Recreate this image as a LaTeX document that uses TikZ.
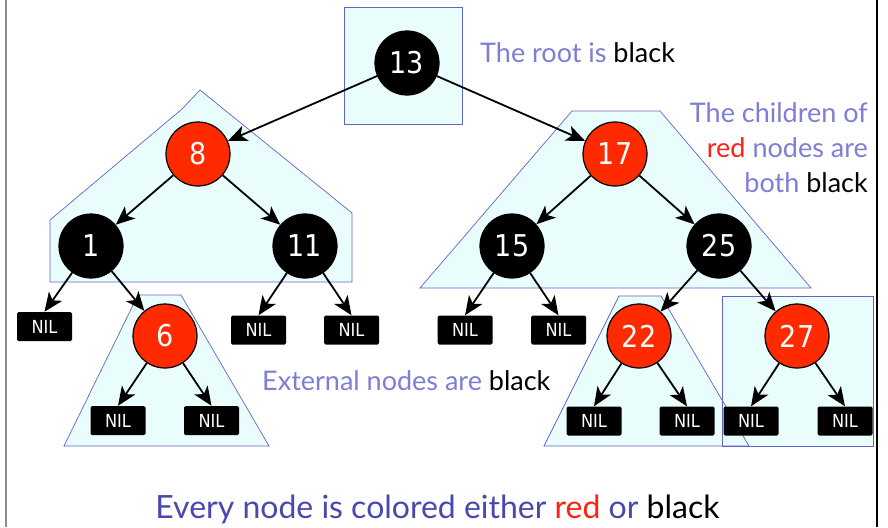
\documentclass[tikz,border=0pt]{standalone}
\usepackage{fontspec}
\setmainfont{Lato}
\newfontfamily\keyfont{DejaVu Sans Condensed}
\usetikzlibrary{arrows.meta}
\definecolor{lavender}{RGB}{126,126,214}
\definecolor{deepblue}{RGB}{72,72,176}
\definecolor{nodered}{RGB}{255,42,0}
\definecolor{txtred}{RGB}{255,34,20}
\definecolor{regionfill}{RGB}{234,253,253}
\definecolor{regionline}{RGB}{100,100,200}
\tikzset{
  keynode/.style={circle, draw=black, line width=1.2pt, minimum size=64pt,
    inner sep=0pt, text=white, font=\keyfont\fontsize{30}{30}\selectfont},
  blacknode/.style={keynode, fill=black},
  rednode/.style={keynode, fill=nodered},
  nilnode/.style={rectangle, fill=black, rounded corners=1.5pt,
    minimum width=55pt, minimum height=29pt, inner sep=0pt, text=white,
    font=\keyfont\fontsize{18}{18}\selectfont},
  link/.style={-{Stealth[length=19pt,width=16pt,inset=5pt]}, line width=1.8pt},
  regionfillstyle/.style={fill=regionfill},
  regionedge/.style={draw=regionline, line width=0.7pt},
  note/.style={text=lavender, font=\fontsize{27}{27}\selectfont, inner sep=0pt},
}
\begin{document}
\begin{tikzpicture}[x=1pt, y=-1pt]
\useasboundingbox (0,0) rectangle (888,527);
\fill[white] (0,0) rectangle (888,527);

% side rules of the slide frame
\draw[line width=1.5pt, gray!90] (6,0) -- (6,527);
\draw[line width=1.2pt, black] (877,0) -- (877,527);

% highlighted regions: fills first, outlines on top
\def\rootbox{(344,7) rectangle (462,124)}
\def\leftpent{(200,90) -- (182,109) -- (50,220) -- (50,282) -- (352,282) -- (352,213) -- cycle}
\def\righttrap{(572,111) -- (660,111) -- (811,288) -- (420,288) -- cycle}
\def\sixtrap{(138,295) -- (181,295) -- (269,446) -- (64,446) -- cycle}
\def\twotwotrap{(619,296) -- (661,296) -- (749,446) -- (544,446) -- cycle}
\def\twosevenbox{(722,296) rectangle (873,446)}
\foreach \r in {\rootbox,\leftpent,\righttrap,\sixtrap,\twotwotrap,\twosevenbox}
  \path[regionfillstyle] \r;
\foreach \r in {\rootbox,\leftpent,\righttrap,\sixtrap,\twotwotrap,\twosevenbox}
  \path[regionedge] \r;

% tree keys
\node[blacknode] (n13) at (407,63) {13};
\node[rednode]   (n8)  at (198,154) {8};
\node[rednode]   (n17) at (615,154) {17};
\node[blacknode] (n1)  at (91,246) {1};
\node[blacknode] (n11) at (305,246) {11};
\node[blacknode] (n15) at (512,246) {15};
\node[blacknode] (n25) at (719,246) {25};
\node[rednode]   (n6)  at (165,336) {6};
\node[rednode]   (n22) at (639,336) {22};
\node[rednode]   (n27) at (797,336) {27};

% external (NIL) leaves
\node[nilnode] (l1)  at (44.5,326.5) {NIL};
\node[nilnode] (l11a) at (258.5,330) {NIL};
\node[nilnode] (l11b) at (351.5,330) {NIL};
\node[nilnode] (l15a) at (465,330) {NIL};
\node[nilnode] (l15b) at (558.5,330) {NIL};
\node[nilnode] (l6a) at (118,420.5) {NIL};
\node[nilnode] (l6b) at (211.5,420.5) {NIL};
\node[nilnode] (l22a) at (594,421) {NIL};
\node[nilnode] (l22b) at (687,421) {NIL};
\node[nilnode] (l27a) at (751,421) {NIL};
\node[nilnode] (l27b) at (845,421) {NIL};

% parent-to-child links
\draw[link] (n13) -- (n8);
\draw[link] (n13) -- (n17);
\draw[link] (n8) -- (n1);
\draw[link] (n8) -- (n11);
\draw[link] (n17) -- (n15);
\draw[link] (n17) -- (n25);
\draw[link] (n1) -- (l1.north);
\draw[link] (n1) -- (n6);
\draw[link] (n11) -- (l11a.north);
\draw[link] (n11) -- (l11b.north);
\draw[link] (n15) -- (l15a.north);
\draw[link] (n15) -- (l15b.north);
\draw[link] (n6) -- (l6a.north);
\draw[link] (n6) -- (l6b.north);
\draw[link] (n25) -- (n22);
\draw[link] (n25) -- (n27);
\draw[link] (n22) -- (l22a.north);
\draw[link] (n22) -- (l22b.north);
\draw[link] (n27) -- (l27a.north);
\draw[link] (n27) -- (l27b.north);

% property notes
\node[note, anchor=base west] (rootnote) at (480,63) {The root is \textcolor{black}{black}};
\node[note, anchor=base east] (rednote1) at (868,122) {The children of};
\node[note, anchor=base east] (rednote2) at (868,157) {\textcolor{txtred}{red} nodes are};
\node[note, anchor=base east] (rednote3) at (868,192) {both \textcolor{black}{black}};
\node[note, anchor=base west] (extnote) at (262,390) {External nodes are \textcolor{black}{black}};
\node[note, text=deepblue, font=\fontsize{32}{32}\selectfont, anchor=base] (colornote) at (437.5,518)
  {Every node is colored either \textcolor{txtred}{red} or \textcolor{black}{black}};
\end{tikzpicture}
\end{document}
